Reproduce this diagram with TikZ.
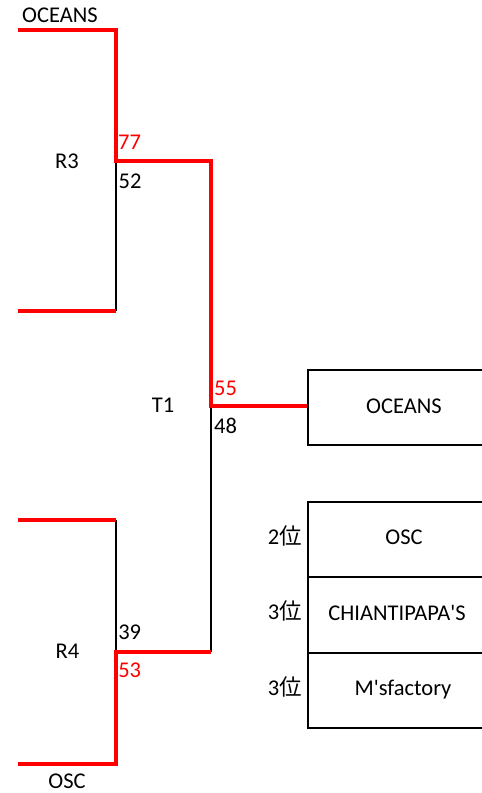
\documentclass[tikz,border=0pt]{standalone}
\usepackage{fontspec}
\newfontfamily\carl{Carlito}
\newfontfamily\cjk{Noto Sans CJK JP}
\begin{document}
\begin{tikzpicture}[x=1pt,y=-1pt,
  font=\carl\fontsize{22.5}{26}\selectfont,
  win/.style={draw=red,line width=4pt,line join=miter},
  lose/.style={draw=black,line width=2pt},
  box/.style={draw=black,line width=2.4pt,minimum width=194pt,anchor=north west,
    inner sep=0pt},
  lbl/.style={inner sep=0pt,text height=0.64em,text depth=0pt,yshift=-3.5pt},
  red lbl/.style={lbl,text=red}]
\useasboundingbox (0,0) rectangle (482,793);
\clip (0,0) rectangle (482,793);
% bracket corners
\coordinate (a1) at (18,30);
\coordinate (a2) at (116,30);
\coordinate (a3) at (116,161);
\coordinate (a4) at (116,311);
\coordinate (a5) at (18,311);
\coordinate (b1) at (18,520);
\coordinate (b2) at (116,520);
\coordinate (b3) at (116,652);
\coordinate (b4) at (116,764);
\coordinate (b5) at (18,764);
\coordinate (c1) at (211,161);
\coordinate (c2) at (211,406);
\coordinate (c3) at (211,652);
% result boxes
\node[box,minimum height=75pt] (champ) at (307,369) {};
\node[lbl] (champt) at (404,407) {OCEANS};
\node[box,minimum height=75pt] (r2) at (307,501) {};
\node[box,minimum height=76pt] (r3a) at (307,576) {};
\node[box,minimum height=75pt] (r3b) at (307,652) {};
\node[lbl] (r2t) at (404,538) {OSC};
\node[lbl] (r3at) at (397,614) {CHIANTIPAPA'S};
\node[lbl] (r3bt) at (403,689) {M'sfactory};
\node[lbl,anchor=east] (p2) at (302,538) {2{\cjk 位}};
\node[lbl,anchor=east] (p3a) at (302,613) {3{\cjk 位}};
\node[lbl,anchor=east] (p3b) at (302,689) {3{\cjk 位}};
% losing paths
\draw[lose] (a3) -- (a4);
\draw[lose] (b2) -- (b3);
\draw[lose] (c2) -- (c3);
% winning paths
\draw[win] (a1) -- (a2) -- (a3) -- (c1) -- (c2) -- (champ.west |- c2);
\draw[win] (a5) -- (a4);
\draw[win] (b1) -- (b2);
\draw[win] (b5) -- (b4) -- (b3) -- (c3);
% labels
\node[lbl] (n1) at (60,16) {OCEANS};
\node[lbl] (n2) at (67,782) {OSC};
\node[lbl] (R3) at (67,162) {R3};
\node[lbl] (R4) at (67.5,652) {R4};
\node[lbl] (T1) at (163,406) {T1};
\node[red lbl] (s77) at (129.5,143) {77};
\node[lbl] (s52) at (130,182) {52};
\node[red lbl] (s55) at (225.5,389) {55};
\node[lbl] (s48) at (225.5,427) {48};
\node[lbl] (s39) at (129.7,633) {39};
\node[red lbl] (s53) at (129.7,671) {53};
\end{tikzpicture}
\end{document}
